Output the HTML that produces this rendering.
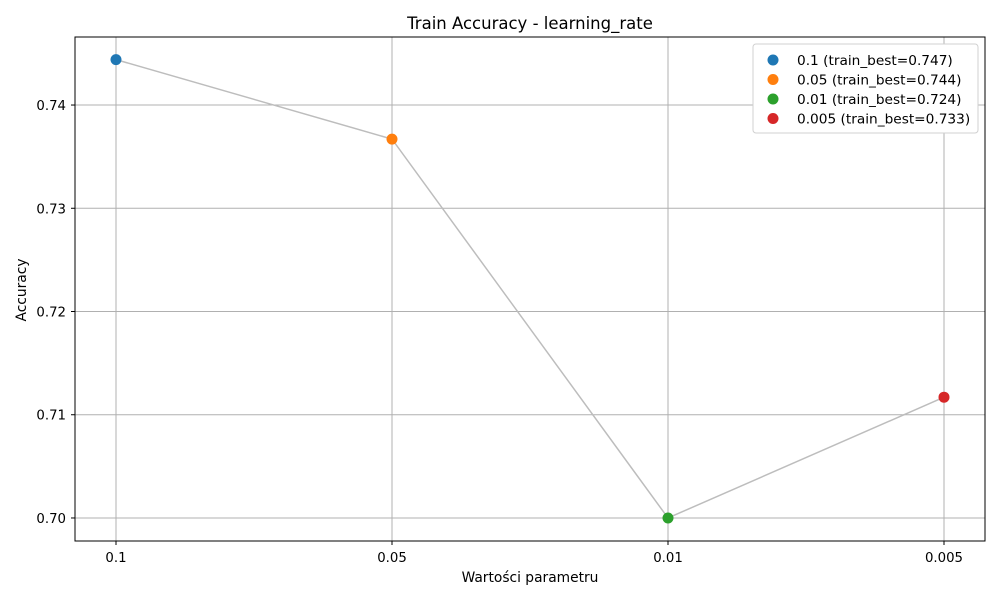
<!DOCTYPE html>
<html><head><meta charset="utf-8"><style>
body{margin:0;background:#fff;font-family:"Liberation Sans","DejaVu Sans",sans-serif;}
svg text{font-family:"DejaVu Sans","Liberation Sans",sans-serif;}
</style></head><body>
<svg id="chart" width="1000" height="600" xmlns="http://www.w3.org/2000/svg"></svg>
<script>
const categories = ["0.1","0.05","0.01","0.005"];
const accuracy = [0.7444,0.7367,0.7000,0.7117];
const legendLabels = ["0.1 (train_best=0.747)","0.05 (train_best=0.744)","0.01 (train_best=0.724)","0.005 (train_best=0.733)"];
const yTicks = [0.70,0.71,0.72,0.73,0.74];
const colors = ["#1f77b4","#ff7f0e","#2ca02c","#d62728"];

const L=75,R=985,T=37,B=541;
const yMin=0.69777,yMax=0.74659;
const y=v=>B-(v-yMin)/(yMax-yMin)*(B-T);
const x=i=>116+i*276;
const svg=document.getElementById('chart');
const NS="http://www.w3.org/2000/svg";
function mk(tag,attrs,parent){const e=document.createElementNS(NS,tag);for(const k in attrs)e.setAttribute(k,attrs[k]);(parent||svg).appendChild(e);return e;}

yTicks.forEach(v=>{
  const g=mk('line',{x1:L,x2:R,y1:y(v),y2:y(v),stroke:'#b0b0b0','stroke-width':1});
  
  
  mk('line',{x1:L-4,x2:L,y1:y(v),y2:y(v),stroke:'#000'});
  const t=mk('text',{x:L-9,y:y(v)+5,'text-anchor':'end','font-size':13.3});
  t.textContent=v.toFixed(2);
  
  
});
categories.forEach((c,i)=>{
  const g=mk('line',{x1:x(i),x2:x(i),y1:T,y2:B,stroke:'#b0b0b0','stroke-width':1});
  
  
  mk('line',{x1:x(i),x2:x(i),y1:B,y2:B+4,stroke:'#000'});
  const t=mk('text',{x:x(i),y:B+21,'text-anchor':'middle','font-size':13.3});
  t.textContent=c;
  
  
});
const frame=mk('rect',{x:L,y:T,width:R-L,height:B-T,fill:'none',stroke:'#000','stroke-width':1});



const line=mk('polyline',{points:accuracy.map((v,i)=>x(i)+','+y(v)).join(' '),fill:'none',stroke:'#bdbdbd','stroke-width':1.5});


accuracy.forEach((v,i)=>{
  const c=mk('circle',{cx:x(i),cy:y(v),r:5.5,fill:colors[i]});
  
  
});

const title=mk('text',{x:(L+R)/2,y:29,'text-anchor':'middle','font-size':16.5});
title.textContent='Train Accuracy - learning_rate';


const xt=mk('text',{x:(L+R)/2,y:582,'text-anchor':'middle','font-size':13.8});
xt.textContent='Wartości parametru';


const yt=mk('text',{x:0,y:0,'text-anchor':'middle','font-size':13.8,transform:'translate(26,290) rotate(-90)'});
yt.textContent='Accuracy';



const lg=mk('g',{});


mk('rect',{x:753,y:44,width:225,height:89,rx:3,fill:'#fff',stroke:'#d0d0d0'},lg);
legendLabels.forEach((s,i)=>{
  const yy=60+i*19.5;
  const c=mk('circle',{cx:773,cy:yy,r:5.5,fill:colors[i]},lg);
  
  
  const t=mk('text',{x:797,y:yy+5,'font-size':13.7},lg);
  t.textContent=s;
  
  
});
</script>
</body></html>
